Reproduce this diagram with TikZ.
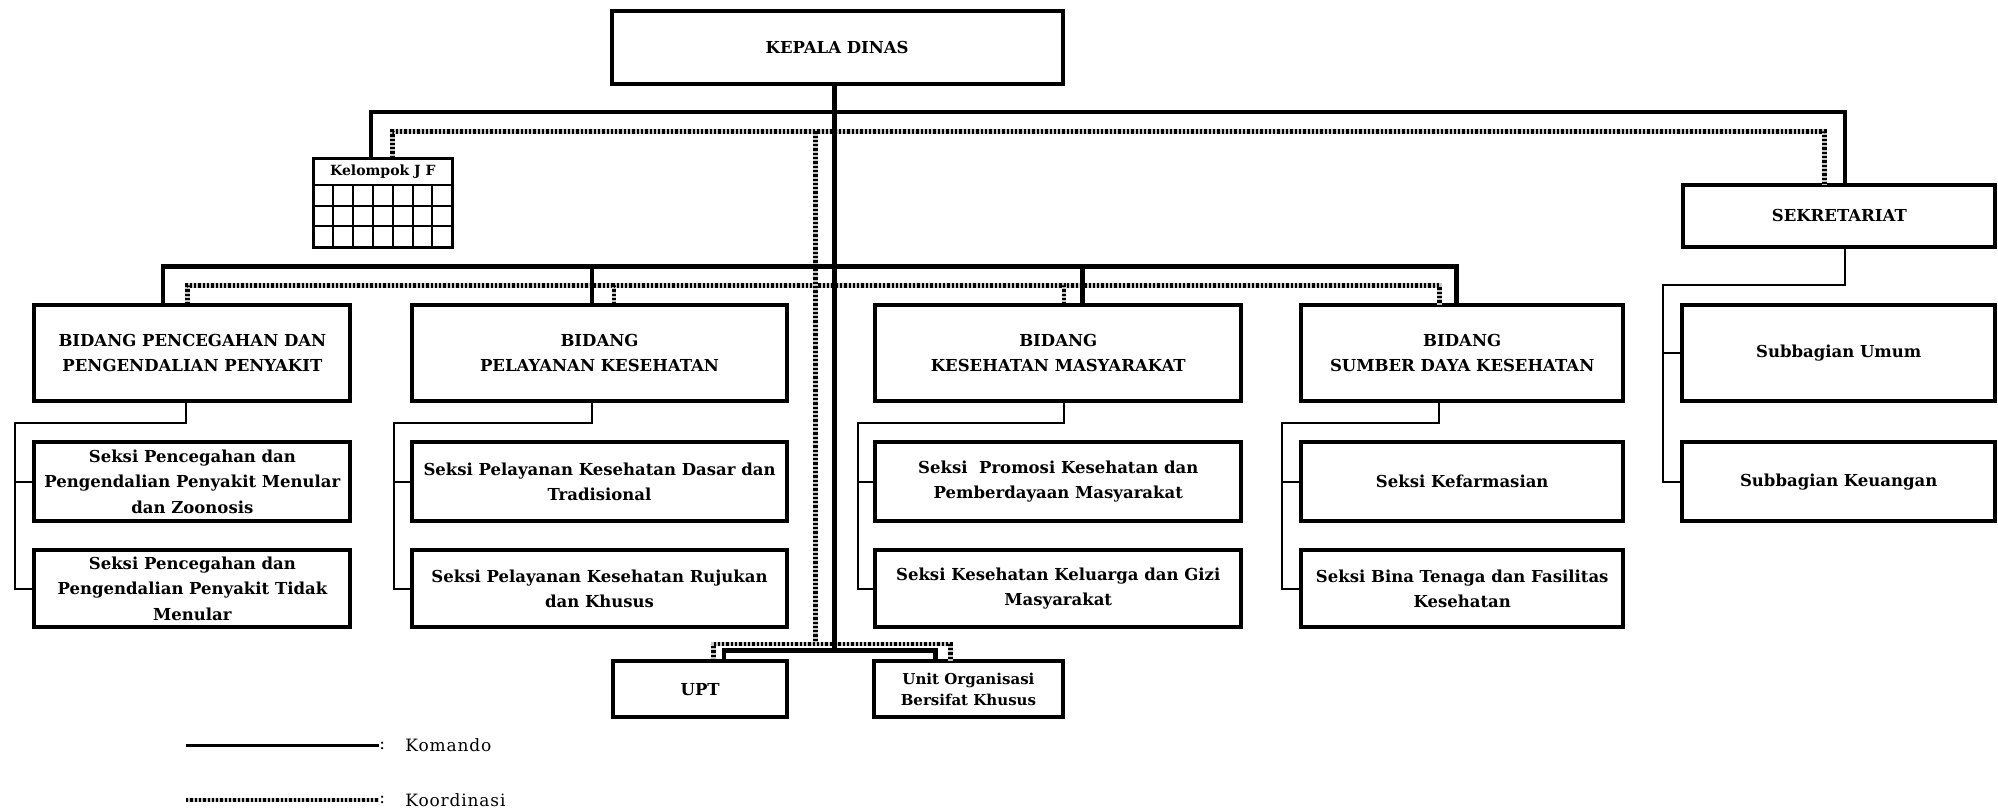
\documentclass[tikz,border=0pt]{standalone}
\usepackage{fontspec}
\setmainfont{DejaVu Serif}
\newfontfamily\legfont[LetterSpace=5]{DejaVu Serif}
\usetikzlibrary{calc}
\newcommand\obox[7]{\node[#1, minimum width={(#5-#3)*1.274pt}, minimum height={(#6-#4)*1.274pt}] (#2) at ({(#3+#5)/2},{(#4+#6)/2}) {#7};}
\begin{document}
\begin{tikzpicture}[x=1.274pt,y=-1.274pt,
  box/.style={draw, line width=4pt, fill=white, inner sep=0pt, outer sep=0pt, align=center,
    font=\bfseries\fontsize{16.5}{25.5}\selectfont},
  smallbox/.style={box, font=\bfseries\fontsize{15}{21.5}\selectfont},
  gridbox/.style={draw, line width=3pt, fill=white, inner sep=0pt, outer sep=0pt},
  cmd/.style={line width=4.5pt},
  thinln/.style={line width=2pt},
  coord/.style={line width=4.5pt, draw=gray!45, postaction={draw=black, line width=4.5pt, dash pattern=on 2.3pt off 2pt}},
  legtext/.style={inner sep=0pt, font=\legfont\fontsize{17}{20}\selectfont},
]
\useasboundingbox (0,0) rectangle (1568,636);

% junction coordinates
\coordinate (t1) at (655,88);
\coordinate (t2) at (655,209);
\coordinate (ju) at (655,510.5);
\coordinate (c1) at (640,103);
\coordinate (c2) at (640,224);
\coordinate (c3) at (640,505.5);

% boxes
\obox{box}{kd}{480}{9}{834}{66}{KEPALA DINAS}
\obox{gridbox}{jf}{246}{124}{355}{194}{}
\obox{box}{sek}{1321}{145}{1566}{194}{SEKRETARIAT}
\obox{box}{b1}{27}{239}{275}{315}{BIDANG PENCEGAHAN DAN\\PENGENDALIAN PENYAKIT}
\obox{box}{b2}{323}{239}{618}{315}{BIDANG\\PELAYANAN KESEHATAN}
\obox{box}{b3}{687}{239}{974}{315}{BIDANG\\KESEHATAN MASYARAKAT}
\obox{box}{b4}{1021}{239}{1274}{315}{BIDANG\\SUMBER DAYA KESEHATAN}
\obox{box}{su}{1320}{239}{1566}{315}{Subbagian Umum}
\obox{box}{s11}{27}{347}{275}{409}{Seksi Pencegahan dan\\Pengendalian Penyakit Menular\\dan Zoonosis}
\obox{box}{s21}{323}{347}{618}{409}{Seksi Pelayanan Kesehatan Dasar dan\\Tradisional}
\obox{box}{s31}{687}{347}{974}{409}{Seksi\ \ Promosi Kesehatan dan\\Pemberdayaan Masyarakat}
\obox{box}{s41}{1021}{347}{1274}{409}{Seksi Kefarmasian}
\obox{box}{sk}{1320}{347}{1566}{409}{Subbagian Keuangan}
\obox{box}{s12}{27}{432}{275}{492}{Seksi Pencegahan dan\\Pengendalian Penyakit Tidak\\Menular}
\obox{box}{s22}{323}{432}{618}{492}{Seksi Pelayanan Kesehatan Rujukan\\dan Khusus}
\obox{box}{s32}{687}{432}{974}{492}{Seksi Kesehatan Keluarga dan Gizi\\Masyarakat}
\obox{box}{s42}{1021}{432}{1274}{492}{Seksi Bina Tenaga dan Fasilitas\\Kesehatan}
\obox{box}{upt}{481}{519}{618}{563}{UPT}
\obox{smallbox}{uok}{686}{519}{834}{563}{Unit Organisasi\\Bersifat Khusus}

% Kelompok JF grid
\node[font=\bfseries\fontsize{14}{16}\selectfont, inner sep=0pt] (jft) at (300.5,134.5) {Kelompok J F};
\begin{scope}[line width=2pt]
\draw (246,145) -- (355,145);
\draw (246,161.5) -- (355,161.5);
\draw (246,177.5) -- (355,177.5);
\foreach \xx in {261.6,277.1,292.7,308.3,323.9,339.4} \draw (\xx,145) -- (\xx,194);
\end{scope}
\draw[gridbox, fill=none] (jf.south west) rectangle (jf.north east);

% coordination lines
\draw[coord] ($(jf.north)+(7.5,0)$) |- (c1) -| ($(sek.north)+(-11.5,0)$);
\draw[coord] ($(b1.north)+(-4,0)$) |- (c2) -| ($(b4.north)+(-18,0)$);
\draw[coord] ($(b2.north)+(11.5,0)$) |- (c2);
\draw[coord] ($(b3.north)+(4.5,0)$) |- (c2);
\draw[coord] (c1) -- (c3);
\draw[coord] ($(upt.north)+(10.5,0)$) |- (c3) -| ($(uok.north)+(-14,0)$);

% command lines
\draw[cmd] (kd.south -| t1) -- (ju);
\draw[cmd] ($(jf.north)+(-9.5,0)$) |- (t1) -| ($(sek.north)+(4.5,0)$);
\draw[cmd] ($(b1.north)+(-23,0)$) |- (t2) -| ($(b4.north)+(-4.5,0)$);
\draw[cmd] ($(b2.north)+(-6,0)$) |- (t2);
\draw[cmd] ($(b3.north)+(19,0)$) |- (t2);
\draw[cmd] ($(upt.north)+(18.5,0)$) |- (ju) -| ($(uok.north)+(-26,0)$);

% thin connectors to sections
\coordinate (L1) at (12,332);
\coordinate (L2) at (309,332);
\coordinate (L3) at (673,332);
\coordinate (L4) at (1006,332);
\coordinate (L5) at (1305,224);
\draw[thinln] ($(b1.south)+(-5,0)$) |- (L1) |- (s12.west);
\draw[thinln] (L1 |- s11.west) -- (s11.west);
\draw[thinln] ($(b2.south)+(-6,0)$) |- (L2) |- (s22.west);
\draw[thinln] (L2 |- s21.west) -- (s21.west);
\draw[thinln] ($(b3.south)+(4.5,0)$) |- (L3) |- (s32.west);
\draw[thinln] (L3 |- s31.west) -- (s31.west);
\draw[thinln] ($(b4.south)+(-18.5,0)$) |- (L4) |- (s42.west);
\draw[thinln] (L4 |- s41.west) -- (s41.west);
\draw[thinln] ($(sek.south)+(4.5,0)$) |- (L5) |- (sk.west);
\draw[thinln] (L5 |- su.west) -- (su.west);

% legend
\coordinate (k0) at (146,585);
\node[legtext] (k1) at (300,585) {:};
\node[legtext, anchor=west] (k2) at (318,585) {Komando};
\draw[line width=2.5pt] (k0) -- (k1.west);
\coordinate (d0) at (146,628);
\node[legtext] (d1) at (300,628) {:};
\node[legtext, anchor=west] (d2) at (318,628) {Koordinasi};
\draw[coord] (d0) -- (d1.west);
\end{tikzpicture}
\end{document}
